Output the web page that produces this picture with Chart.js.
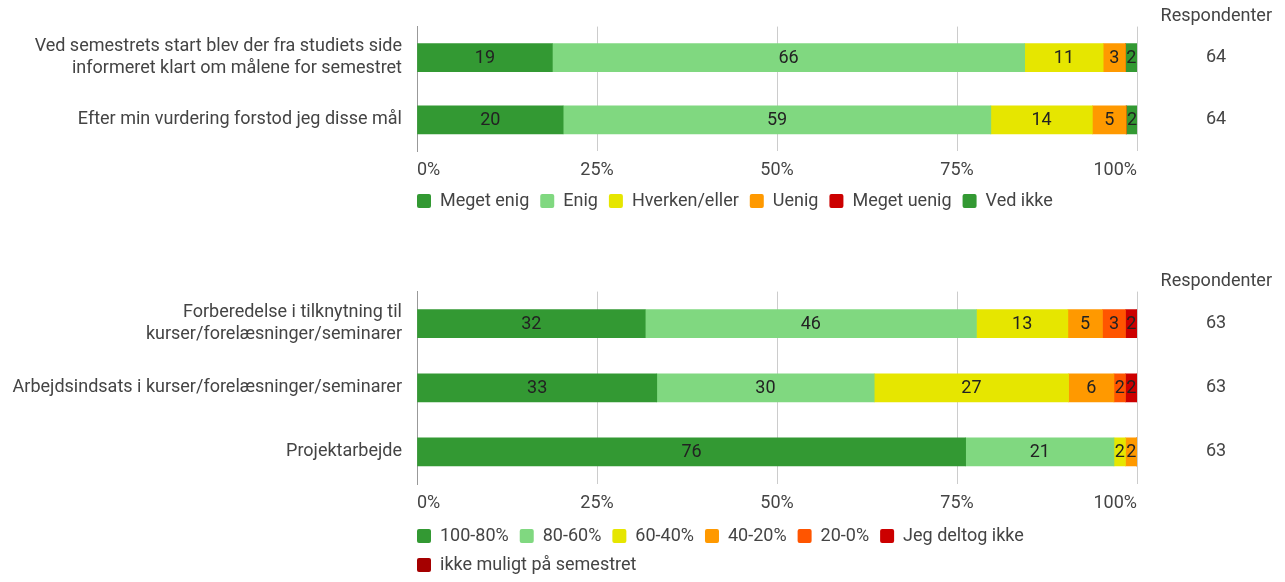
<!DOCTYPE html>
<html><head><meta charset="utf-8">
<script src="https://cdn.jsdelivr.net/npm/chart.js@4"></script>
<style>
html,body{margin:0;padding:0;background:#fff;overflow:hidden;width:1285px;height:582px;}
canvas{position:absolute;left:0;display:block;}
#c1{top:0}
#c2{top:265px}
</style></head><body>
<canvas id="c1" width="1285" height="220"></canvas>
<canvas id="c2" width="1285" height="319"></canvas>
<script>
// ---- Chart 1: goals ----
const goalQuestions = [['Ved semestrets start blev der fra studiets side', 'informeret klart om målene for semestret'], 'Efter min vurdering forstod jeg disse mål'];
const goalRespondents = ['64', '64'];
const goalSeriesNames = ['Meget enig', 'Enig', 'Hverken/eller', 'Uenig', 'Meget uenig', 'Ved ikke'];
const goalMegetEnig = [18.8, 20.3];
const goalEnig = [65.6, 59.4];
const goalHverken = [10.9, 14.1];
const goalUenig = [3.1, 4.7];
const goalMegetUenig = [0, 0];
const goalVedIkke = [1.6, 1.6];
const goalColors = ['#339933', '#80d880', '#e6e600', '#ff9900', '#cc0000', '#339933'];

// ---- Chart 2: work effort ----
const workQuestions = [['Forberedelse i tilknytning til', 'kurser/forelæsninger/seminarer'], 'Arbejdsindsats i kurser/forelæsninger/seminarer', 'Projektarbejde'];
const workRespondents = ['63', '63', '63'];
const workSeriesNames = ['100-80%', '80-60%', '60-40%', '40-20%', '20-0%', 'Jeg deltog ikke', 'ikke muligt på semestret'];
const work100to80 = [31.7, 33.3, 76.2];
const work80to60 = [46.0, 30.2, 20.6];
const work60to40 = [12.7, 27.0, 1.6];
const work40to20 = [4.8, 6.3, 1.6];
const work20to0 = [3.2, 1.6, 0];
const workDeltogIkke = [1.6, 1.6, 0];
const workIkkeMuligt = [0, 0, 0];
const workColors = ['#339933', '#80d880', '#e6e600', '#ff9900', '#ff5500', '#cc0000', '#a50000'];

const xTickValues = [0, 25, 50, 75, 100];
const respondentTitle = 'Respondenter';

Chart.defaults.font.family = 'Roboto, "Noto Sans", sans-serif';
Chart.defaults.color = '#444';

const valueLabels = {
  id: 'valueLabels',
  afterDatasetsDraw(chart) {
    const ctx = chart.ctx;
    ctx.save();
    ctx.font = '18px Roboto, "Noto Sans", sans-serif';
    ctx.fillStyle = '#222';
    ctx.textAlign = 'center';
    ctx.textBaseline = 'middle';
    chart.data.datasets.forEach((ds, di) => {
      const meta = chart.getDatasetMeta(di);
      if (meta.hidden) return;
      meta.data.forEach((bar, i) => {
        const v = ds.data[i];
        if (!v) return;
        ctx.fillText(String(Math.round(v)), (bar.x + bar.base) / 2, bar.y + 1);
      });
    });
    ctx.restore();
  }
};

const legendShift = {
  id: 'legendShift',
  afterLayout(chart) {
    const lg = chart.legend;
    if (!lg) return;
    const p = lg.options.labels.padding;
    lg.left -= p;
    lg.right -= p;
  }
};

function makeChart(id, labels, respondents, names, series, colors, xAxisHeight) {
  return new Chart(document.getElementById(id), {
    type: 'bar',
    data: {
      labels: labels,
      datasets: series.map((d, i) => ({
        label: names[i],
        data: d,
        backgroundColor: colors[i],
        borderWidth: 0,
        barThickness: 28,
        yAxisID: 'y',
        xAxisID: 'x'
      }))
    },
    options: {
      indexAxis: 'y',
      responsive: false,
      animation: false,
      layout: { padding: { left: 0, right: 13, top: 0, bottom: 0 } },
      scales: {
        x: {
          stacked: true, min: 0, max: 100,
          afterBuildTicks(s) { s.ticks = xTickValues.map(v => ({ value: v })); },
          afterFit(s) { s.height = xAxisHeight; },
          grid: { color: '#cccccc', drawTicks: false },
          border: { display: false },
          ticks: { padding: 9, align: 'inner', font: { size: 18 }, color: '#444', callback: v => v + '%' }
        },
        y: {
          stacked: true,
          grid: { display: false, drawTicks: false },
          border: { display: true, color: '#999999' },
          ticks: { padding: 15, font: { size: 18, lineHeight: 1.22 }, color: '#444' },
          afterFit(s) { s.width = 417; s.paddingTop = 0; s.paddingBottom = 0; }
        },
        yRight: {
          axis: 'y', type: 'category', position: 'right', labels: respondents, offset: true,
          grid: { display: false, drawTicks: false },
          border: { display: false },
          ticks: { padding: 69, font: { size: 18 }, color: '#444' },
          afterFit(s) { s.width = 135; s.paddingTop = 0; s.paddingBottom = 0; }
        }
      },
      plugins: {
        title: { display: true, text: respondentTitle, align: 'end', color: '#444', font: { size: 18, weight: 'normal' }, padding: { top: 6, bottom: -1 } },
        legend: {
          position: 'bottom', align: 'start', fullSize: false,
          labels: { boxWidth: 14, boxHeight: 14, padding: 11, useBorderRadius: true, borderRadius: 2, font: { size: 18 }, color: '#444' }
        },
        tooltip: { enabled: false }
      }
    },
    plugins: [valueLabels, legendShift]
  });
}

makeChart('c1', goalQuestions, goalRespondents, goalSeriesNames,
  [goalMegetEnig, goalEnig, goalHverken, goalUenig, goalMegetUenig, goalVedIkke], goalColors, 30);
makeChart('c2', workQuestions, workRespondents, workSeriesNames,
  [work100to80, work80to60, work60to40, work40to20, work20to0, workDeltogIkke, workIkkeMuligt], workColors, 32);
</script>
</body></html>
